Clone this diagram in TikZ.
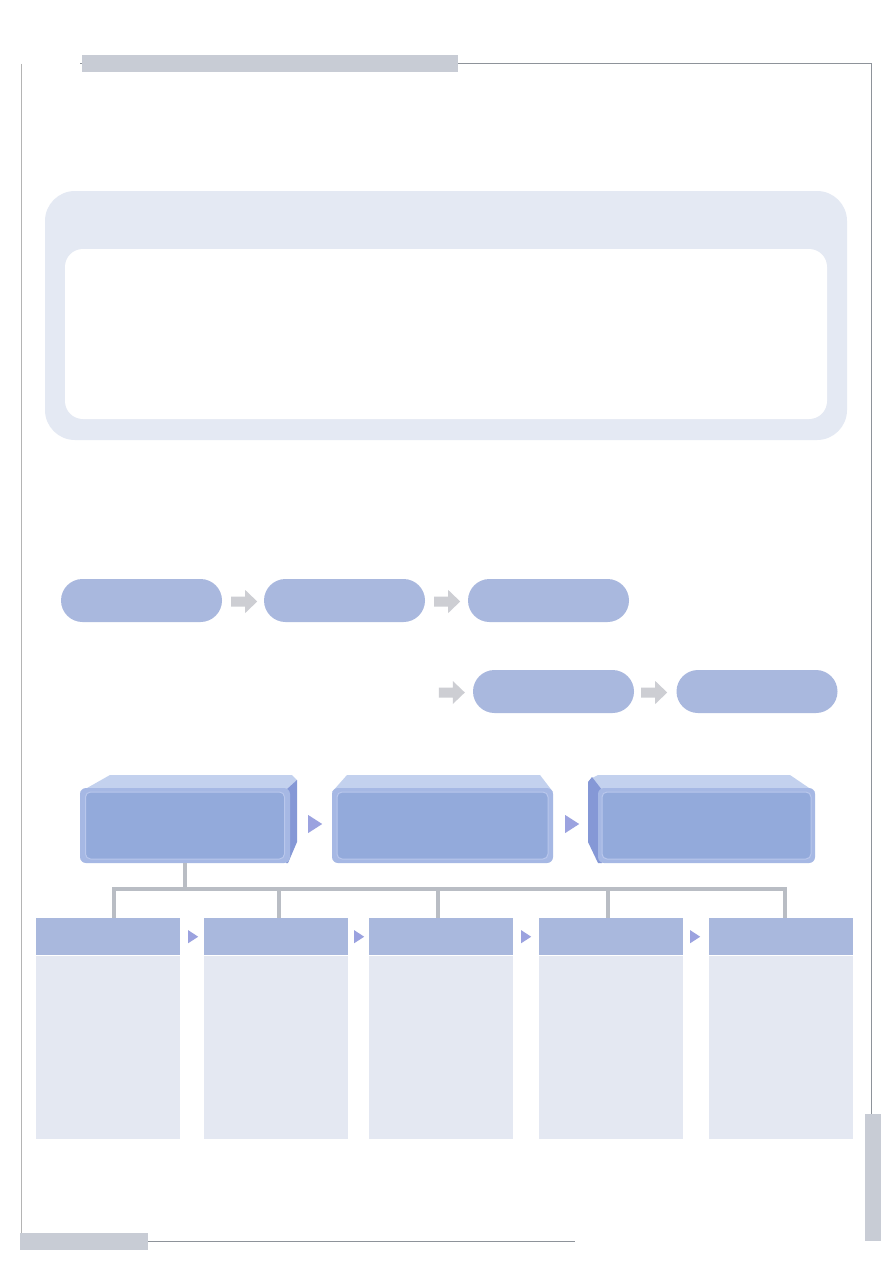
\documentclass[tikz,border=0pt]{standalone}
\usetikzlibrary{calc}
\definecolor{barg}{HTML}{C8CCD5}
\definecolor{lineg}{HTML}{8E939A}
\definecolor{leftg}{HTML}{B4B4B4}
\definecolor{panel}{HTML}{E4E9F3}
\definecolor{pillc}{HTML}{A9B8DE}
\definecolor{arrowg}{HTML}{CDCED3}
\definecolor{treeg}{HTML}{B9BDC4}
\definecolor{tric}{HTML}{9BA2DF}
\definecolor{headc}{HTML}{A9B8DD}
\definecolor{bodyc}{HTML}{E4E8F2}
\definecolor{cubetop}{HTML}{C3D1EE}
\definecolor{cubeside}{HTML}{8598D6}
\definecolor{cubefront}{HTML}{A6B8E4}
\definecolor{cubein}{HTML}{93AADB}
\definecolor{cubeline}{HTML}{B9C7EC}
\tikzset{
  pill/.style={fill=pillc, rounded corners=21.5pt, minimum width=161pt, minimum height=43pt, inner sep=0pt},
  headbox/.style={fill=headc, minimum width=144pt, minimum height=37pt, anchor=north, inner sep=0pt},
  bodybox/.style={fill=bodyc, minimum width=144pt, minimum height=183pt, anchor=north, inner sep=0pt},
  cubeface/.style={fill=cubefront, rounded corners=6pt, minimum height=75pt, inner sep=0pt},
  cubeinner/.style={fill=cubein, draw=cubeline, line width=1pt, rounded corners=5pt, minimum height=67pt, inner sep=0pt},
  treeline/.style={draw=treeg, line width=4.5pt},
  garrow/.pic={\fill[arrowg] (0,-5) -- (14,-5) -- (14,-11.5) -- (26,0) -- (14,11.5) -- (14,5) -- (0,5) -- cycle;},
  smalltri/.pic={\fill[tric] (0,-6.5) -- (10,0) -- (0,6.5) -- cycle;},
  bigtri/.pic={\fill[tric] (0,-9) -- (14,0) -- (0,9) -- cycle;}
}
\begin{document}
\begin{tikzpicture}[x=1pt,y=-1pt]
\useasboundingbox (0,0) rectangle (893,1263);
\fill[white] (0,0) rectangle (893,1263);
% page frame
\draw[leftg, line width=1pt] (21,64) -- (21,1233);
\draw[lineg, line width=1pt] (80,64) -- (871,64) -- (871,1114);
\fill[barg] (82,55) rectangle (458,72);
\draw[lineg, line width=1pt] (148,1241) -- (575,1241);
\fill[barg] (20,1233) rectangle (148,1250);
\fill[barg] (865,1114) rectangle (881,1241);
% big panel
\fill[panel, rounded corners=30pt] (45,191) rectangle (847,440);
\fill[white, rounded corners=18pt] (65,249) rectangle (827,419);
% pills
\node[pill] (p1) at (141.5,600.5) {};
\node[pill] (p2) at (344.5,600.5) {};
\node[pill] (p3) at (548.5,600.5) {};
\node[pill] (p4) at (553.5,691.5) {};
\node[pill] (p5) at (757,691.5) {};
\pic at ($(p1.east)+(9,1)$) {garrow};
\pic at ($(p2.east)+(9,1)$) {garrow};
\pic at ($(p4.west)+(-34,1)$) {garrow};
\pic at ($(p4.east)+(7,1)$) {garrow};
% cube 1
\fill[cubetop] (80,792) -- (110,775) -- (292,775) -- (297,780) -- (290,792) -- cycle;
\fill[cubeside] (286,790) -- (297,780) -- (297,842) -- (288,863) -- (286,863) -- cycle;
\node[cubeface, minimum width=210pt] (f1) at (185,825.5) {};
\node[cubeinner, minimum width=199pt] (i1) at (f1.center) {};
% cube 2
\fill[cubetop] (332,792) -- (347,775) -- (540,775) -- (553,792) -- cycle;
\node[cubeface, minimum width=221pt] (f2) at (442.5,825.5) {};
\node[cubeinner, minimum width=211pt] (i2) at (f2.center) {};
% cube 3
\fill[cubetop] (592,778) -- (598,775) -- (790,775) -- (815,792) -- (598,792) -- cycle;
\fill[cubeside] (602,790) -- (592,777) -- (588,782) -- (588,842) -- (598,863) -- (602,863) -- cycle;
\node[cubeface, minimum width=217pt] (f3) at (706.5,825.5) {};
\node[cubeinner, minimum width=209pt] (i3) at (f3.center) {};
\pic at ($(f1.east)+(18,-1.5)$) {bigtri};
\pic at ($(f2.east)+(12,-1.5)$) {bigtri};
% bottom boxes
\node[headbox] (h1) at (108,918) {};
\node[headbox] (h2) at (276,918) {};
\node[headbox] (h3) at (441,918) {};
\node[headbox] (h4) at (611,918) {};
\node[headbox] (h5) at (781,918) {};
\foreach \i in {1,...,5}{\node[bodybox] (b\i) at (h\i.south) {};}
\pic at ($(h1.east)+(8,0)$) {smalltri};
\pic at ($(h2.east)+(6,0)$) {smalltri};
\pic at ($(h3.east)+(8,0)$) {smalltri};
\pic at ($(h4.east)+(7,0)$) {smalltri};
% tree connector
\coordinate (stem) at (185,889);
\coordinate (t1) at (114,889);
\coordinate (t2) at (279,889);
\coordinate (t3) at (438,889);
\coordinate (t4) at (608,889);
\coordinate (t5) at (785,889);
\draw[treeline] (f1.south) -- (stem);
\draw[treeline, line join=miter] (t1 |- h1.north) -- (t1) -- (t5) -- (t5 |- h5.north);
\draw[treeline] (t2) -- (t2 |- h2.north);
\draw[treeline] (t3) -- (t3 |- h3.north);
\draw[treeline] (t4) -- (t4 |- h4.north);
\end{tikzpicture}
\end{document}
